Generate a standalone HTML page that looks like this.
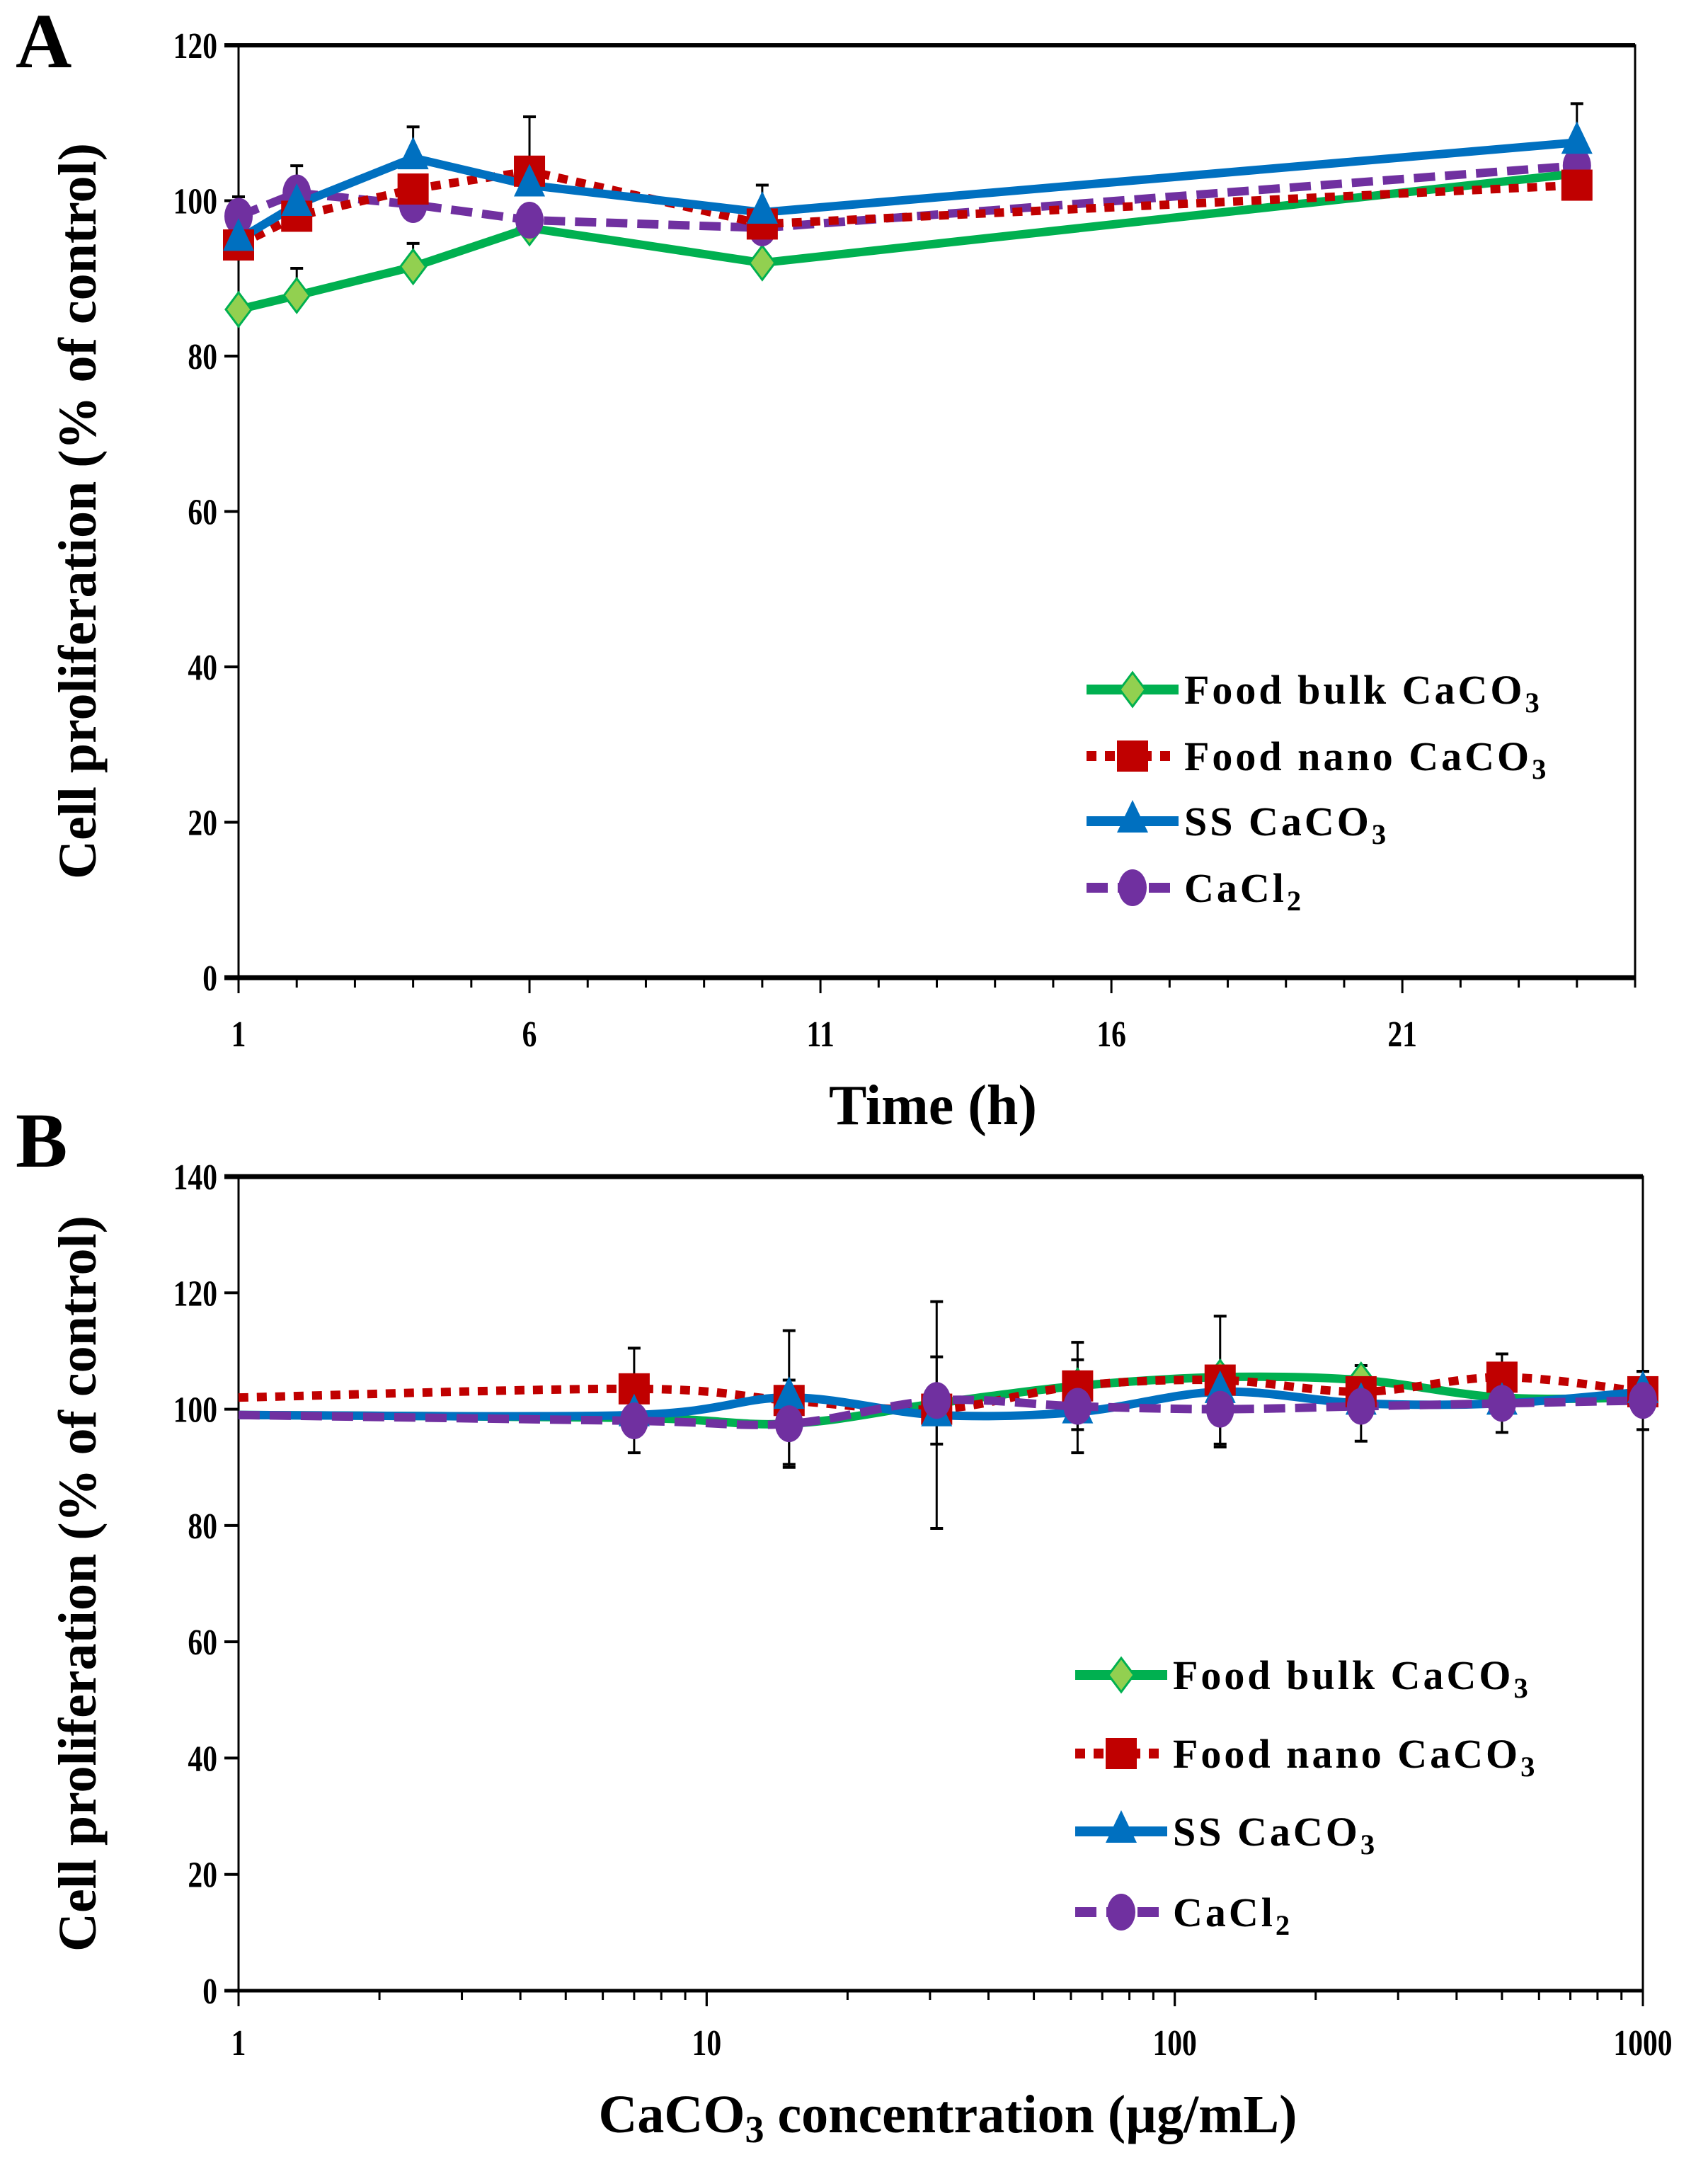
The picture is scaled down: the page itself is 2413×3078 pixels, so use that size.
<!DOCTYPE html>
<html><head><meta charset="utf-8"><style>
html,body{margin:0;padding:0;background:#fff}
svg{display:block}
text{font-family:"Liberation Serif",serif;font-weight:bold;fill:#000}
</style></head><body>
<svg id="chart" width="2413" height="3078" viewBox="0 0 2413 3078" xmlns="http://www.w3.org/2000/svg">
<text x="22" y="95" font-size="110">A</text>
<text x="22" y="1648" font-size="110">B</text>
<g id="gA"></g>
<g id="gB"></g>
</svg>
<script>
// ---- Panel A data ----
const timeHours = [1, 2, 4, 6, 10, 24];
const aGreen = [86, 87.8, 91.5, 96.5, 92, 103.5];
const aRed = [94.3, 98, 101.5, 103.8, 97, 102];
const aBlue = [95, 99.5, 105.5, 102, 98.5, 107.5];
const aPurple = [98, 101, 99.5, 97.5, 96.5, 104.5];
const aErrGreen = [0, 3.5, 3, 0, 0, 0];
const aErrRed = [0, 0, 0, 7, 0, 0];
const aErrBlue = [0, 5, 4, 0, 3.5, 5];
const aErrPurple = [2.5, 0, 0, 0, 0, 0];
const aYTicks = [0, 20, 40, 60, 80, 100, 120];
const aXTicks = [1, 6, 11, 16, 21];
// ---- Panel B data ----
const concentrations = [1, 7, 15, 31, 62, 125, 250, 500, 1000];
const bGreen = [99, 98.5, 97.5, 101, 104, 105.5, 105, 102, 102];
const bRed = [102, 103.5, 101.5, 100, 104, 105, 103, 105.5, 103];
const bBlue = [99, 99, 102, 99, 99.5, 103, 101, 101, 103];
const bPurple = [99, 98, 97.5, 101.5, 100.5, 100, 100.5, 101, 101.5];
const bErrRed = [0, 7, 0, 0, 7.5, 11, 0, 4, 3.5];
const bErrBlue = [0, 0, 11.5, 19.5, 0, 0, 6.5, 0, 0];
const bErrPurple = [0, 5.5, 7.5, 7.5, 8, 6.5, 0, 5, 5];
const bYTicks = [0, 20, 40, 60, 80, 100, 120, 140];
const bXTicks = [1, 10, 100, 1000];

const NS = "http://www.w3.org/2000/svg";
function mk(parent, tag, attrs, txt) {
  const e = document.createElementNS(NS, tag);
  for (const k in attrs) e.setAttribute(k, attrs[k]);
  if (txt !== undefined) e.textContent = txt;
  parent.appendChild(e);
  return e;
}
const COL = {green:"#00b050", red:"#c00000", blue:"#0070c0", purple:"#7030a0"};

function marker(g, type, x, y, color) {
  let e;
  if (type === "diamond") {
    e = mk(g, "polygon", {points:`${x},${y-24} ${x+18},${y} ${x},${y+24} ${x-18},${y}`, fill:"#92d050", stroke:"#00b050", "stroke-width":3});
  } else if (type === "square") {
    e = mk(g, "rect", {x:x-22, y:y-22, width:44, height:44, fill:color});
  } else if (type === "triangle") {
    e = mk(g, "polygon", {points:`${x},${y-30} ${x+22},${y+16} ${x-22},${y+16}`, fill:color});
  } else {
    e = mk(g, "ellipse", {cx:x, cy:y, rx:20, ry:26, fill:color});
  }
  
  
}

function errBar(g, x, y1, y2) {
  const l = mk(g, "line", {x1:x, y1:y1, x2:x, y2:y2, stroke:"#000", "stroke-width":3});
  
  
  mk(g, "line", {x1:x-9, y1:y1, x2:x+9, y2:y1, stroke:"#000", "stroke-width":4});
  mk(g, "line", {x1:x-9, y1:y2, x2:x+9, y2:y2, stroke:"#000", "stroke-width":4});
}

function smoothPath(pts) {
  let d = `M${pts[0][0]},${pts[0][1]}`;
  for (let i = 0; i < pts.length - 1; i++) {
    const p0 = pts[Math.max(0,i-1)], p1 = pts[i], p2 = pts[i+1], p3 = pts[Math.min(pts.length-1,i+2)];
    const c1x = p1[0] + (p2[0]-p0[0])/6, c1y = p1[1] + (p2[1]-p0[1])/6;
    const c2x = p2[0] - (p3[0]-p1[0])/6, c2y = p2[1] - (p3[1]-p1[1])/6;
    d += ` C${c1x},${c1y} ${c2x},${c2y} ${p2[0]},${p2[1]}`;
  }
  return d;
}

function drawSeries(g, xs, ys, sx, sy, color, dash, mType, smooth, name) {
  const pts = xs.map((x,i)=>[sx(x), sy(ys[i])]);
  const d = smooth ? smoothPath(pts) : "M" + pts.map(p=>p.join(",")).join(" L");
  const p = mk(g, "path", {d:d, fill:"none", stroke:color, "stroke-width":12, "stroke-dasharray":dash, "stroke-linejoin":"round"});
  
  
  return pts;
}

function tickText(g, x, y, anchor, str, name) {
  const t = mk(g,"text",{x:0,y:0,"font-size":52,"text-anchor":anchor,transform:`translate(${x},${y}) scale(0.8,1)`},str);
  
  
}

function legend(g, x, ys, label3, font) {
  const items = [
    ["green","diamond","", "Food bulk  CaCO", "3"],
    ["red","square","14 12", "Food nano CaCO", "3"],
    ["blue","triangle","", "SS CaCO", "3"],
    ["purple","circle","30 14", "CaCl", "2"]
  ];
  items.forEach((it, i) => {
    const y = ys[i];
    const gi = mk(g, "g", {});
    
    
    mk(gi, "line", {x1:x, y1:y, x2:x+130, y2:y, stroke:COL[it[0]], "stroke-width":14, "stroke-dasharray":it[2]});
    marker(gi, it[1], x+65, y, COL[it[0]]);
    const t = mk(gi, "text", {x:x+138, y:y+20, "font-size":font, "letter-spacing":4});
    t.textContent = it[3];
    mk(t, "tspan", {"font-size":font*0.7, dy:12}, it[4]);
  });
}

// ---------- Panel A ----------
(function(){
  const g = document.getElementById("gA");
  const L=337, R=2310, T=64, B=1381;
  const sx = v => L + (v-1)/(25-1)*(R-L);
  const sy = v => B - v/120*(B-T);
  mk(g,"rect",{x:L,y:T,width:R-L,height:B-T,fill:"none",stroke:"#000","stroke-width":3});
  mk(g,"line",{x1:L-20,y1:T,x2:R,y2:T,stroke:"#000","stroke-width":6});
  mk(g,"line",{x1:L-20,y1:B,x2:R,y2:B,stroke:"#000","stroke-width":7});
  aYTicks.forEach(v=>{
    mk(g,"line",{x1:L-20,y1:sy(v),x2:L,y2:sy(v),stroke:"#000","stroke-width":4});
    tickText(g, L-30, sy(v)+18, "end", String(v), 'y-tick-label');
  });
  for (let h=1; h<=25; h++) {
    const major = aXTicks.includes(h);
    mk(g,"line",{x1:sx(h),y1:B,x2:sx(h),y2:B+(major?22:14),stroke:"#000","stroke-width":3});
  }
  aXTicks.forEach(v=>tickText(g, sx(v), 1478, "middle", String(v), 'x-tick-label'));
  const xt = mk(g,"text",{x:1318,y:1588,"font-size":80,"text-anchor":"middle"},"Time (h)");
  
  
  const yt = mk(g,"text",{x:0,y:0,"font-size":76,"text-anchor":"middle",transform:"translate(135,722) rotate(-90)"},"Cell proliferation (% of control)");
  
  
  const S = [
    [aGreen,aErrGreen,"green","","diamond"],
    [aPurple,aErrPurple,"purple","30 14","circle"],
    [aRed,aErrRed,"red","14 12","square"],
    [aBlue,aErrBlue,"blue","","triangle"]
  ];
  S.forEach(s=>s[0].forEach((v,i)=>{ if(s[1][i]>0) errBar(g, sx(timeHours[i]), sy(v+s[1][i]), sy(v)); }));
  S.forEach(s=>drawSeries(g,timeHours,s[0],sx,sy,COL[s[2]],s[3],s[4],false,s[2]));
  S.forEach(s=>s[0].forEach((v,i)=>marker(g,s[4],sx(timeHours[i]),sy(v),COL[s[2]])));
  legend(g, 1535, [974,1068,1160,1254], "", 58);
})();

// ---------- Panel B ----------
(function(){
  const g = document.getElementById("gB");
  const L=337, R=2321, T=1662, B=2812;
  const sx = v => L + Math.log10(v)/3*(R-L);
  const sy = v => B - v/140*(B-T);
  mk(g,"rect",{x:L,y:T,width:R-L,height:B-T,fill:"none",stroke:"#000","stroke-width":3});
  mk(g,"line",{x1:L-20,y1:T,x2:R,y2:T,stroke:"#000","stroke-width":7});
  mk(g,"line",{x1:L-20,y1:B,x2:R,y2:B,stroke:"#000","stroke-width":5});
  bYTicks.forEach(v=>{
    mk(g,"line",{x1:L-20,y1:sy(v),x2:L,y2:sy(v),stroke:"#000","stroke-width":4});
    tickText(g, L-30, sy(v)+18, "end", String(v), 'y-tick-label');
  });
  for (let d=1; d<1000; d*=10) for (let k=1; k<=10; k++) {
    const v = d*k; const major = (k===1||k===10);
    mk(g,"line",{x1:sx(v),y1:B,x2:sx(v),y2:B+(major?22:13),stroke:"#000","stroke-width":3});
  }
  bXTicks.forEach(v=>tickText(g, sx(v), 2903, "middle", String(v), 'x-tick-label'));
  const xt = mk(g,"text",{x:1339,y:3012,"font-size":76,"text-anchor":"middle"},"CaCO");
  mk(xt,"tspan",{"font-size":54,dy:14},"3");
  mk(xt,"tspan",{dy:-14}," concentration (µg/mL)");
  
  
  const yt = mk(g,"text",{x:0,y:0,"font-size":76,"text-anchor":"middle",transform:"translate(135,2237) rotate(-90)"},"Cell proliferation (% of control)");
  
  
  const errs = [[bRed,bErrRed],[bBlue,bErrBlue],[bPurple,bErrPurple]];
  errs.forEach(e=>e[0].forEach((v,i)=>{ if(e[1][i]>0) errBar(g, sx(concentrations[i]), sy(v+e[1][i]), sy(v-e[1][i])); }));
  const S = [
    [bGreen,"green","","diamond"],
    [bRed,"red","14 12","square"],
    [bBlue,"blue","","triangle"],
    [bPurple,"purple","30 14","circle"]
  ];
  S.forEach(s=>drawSeries(g,concentrations,s[0],sx,sy,COL[s[1]],s[2],s[3],true,s[1]));
  S.forEach(s=>s[0].forEach((v,i)=>{ if(i>0) marker(g,s[3],sx(concentrations[i]),sy(v),COL[s[1]]); }));
  legend(g, 1519, [2366,2477,2587,2701], "", 58);
})();
</script>
</body></html>
